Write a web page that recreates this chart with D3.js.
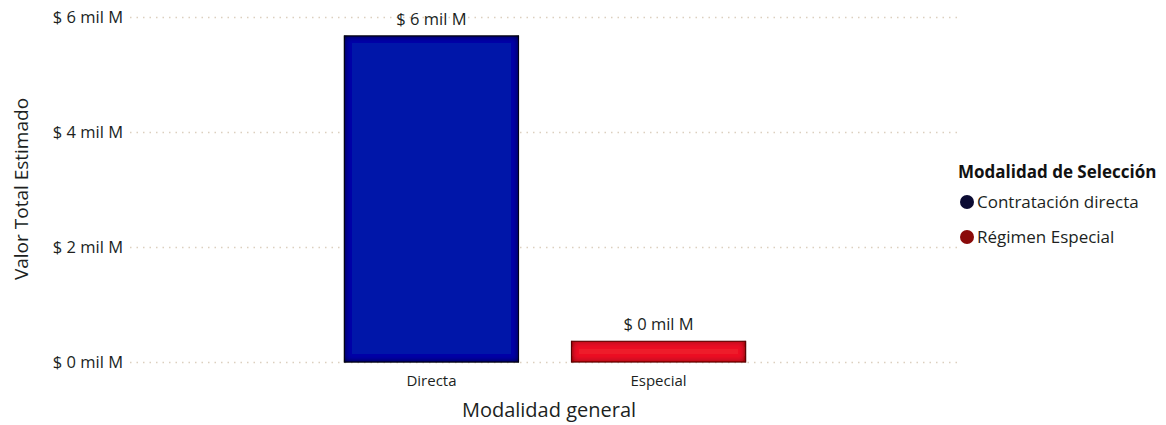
<!DOCTYPE html>
<html>
<head>
<meta charset="utf-8">
<script src="https://cdn.jsdelivr.net/npm/d3@7.9.0/dist/d3.min.js"></script>
<style>
  body { margin: 0; background: #fff; }
  svg { font-family: "Open Sans", "Noto Sans", sans-serif; }
</style>
</head>
<body>
<svg width="1166" height="425"></svg>
<script>
// data (mil M)
const categories = ['Directa', 'Especial'];
const values = [5.67, 0.36];
const labels = ['$ 6 mil M', '$ 0 mil M'];
const yTicks = [0, 2, 4, 6];
const legendItems = ['Contratación directa', 'Régimen Especial'];

const barFill = ['#0519a9', '#ee1a2c'];
const barEdge = ['#000018', '#5a0006'];
const dotColors = ['#0b0b33', '#8a0a0a'];

const svg = d3.select('svg');
const defs = svg.append('defs');

const x = d3.scaleBand().domain(categories).range([130, 960]).paddingInner(0.233).paddingOuter(0.944);
const y = d3.scaleLinear().domain([0, 6]).range([362, 17]);

// inset shadow for the bars
barEdge.forEach((c, i) => {
  const f = defs.append('filter').attr('id', 'inset' + i)
    .attr('x', '-10%').attr('y', '-10%').attr('width', '120%').attr('height', '120%');
  f.append('feComponentTransfer').attr('in', 'SourceAlpha').attr('result', 'inv')
    .append('feFuncA').attr('type', 'table').attr('tableValues', '1 0');
  f.append('feGaussianBlur').attr('in', 'inv').attr('stdDeviation', 3).attr('result', 'blur');
  f.append('feFlood').attr('flood-color', c).attr('result', 'col');
  f.append('feComposite').attr('in', 'col').attr('in2', 'blur').attr('operator', 'in').attr('result', 'sh');
  f.append('feComposite').attr('in', 'sh').attr('in2', 'SourceAlpha').attr('operator', 'in').attr('result', 'sh2');
  const m = f.append('feMerge');
  m.append('feMergeNode').attr('in', 'SourceGraphic');
  m.append('feMergeNode').attr('in', 'sh2');
  m.append('feMergeNode').attr('in', 'sh2');
});

// gridlines
svg.append('g').selectAll('line').data(yTicks).join('line')
  .attr('x1', 130).attr('x2', 960)
  .attr('y1', d => y(d) + 0.5).attr('y2', d => y(d) + 0.5)
  .attr('stroke', '#dccfbe').attr('stroke-width', 1.5)
  .attr('stroke-dasharray', '1.5 5');

// y tick labels
svg.append('g').selectAll('text').data(yTicks).join('text')
  .attr('x', 123).attr('y', d => y(d))
  .attr('dy', '0.35em').attr('text-anchor', 'end')
  .attr('font-size', 16.5).attr('fill', '#201f1e')
  .text(d => `$ ${d} mil M`);

// bars
svg.append('g').selectAll('rect').data(values).join('rect')
  .attr('x', (d, i) => x(categories[i]))
  .attr('width', x.bandwidth())
  .attr('y', d => y(d))
  .attr('height', d => y(0) - y(d))
  .attr('fill', (d, i) => barFill[i])
  .attr('stroke', (d, i) => barEdge[i]).attr('stroke-width', 1)
  .attr('filter', (d, i) => `url(#inset${i})`);

// data labels
svg.append('g').selectAll('text').data(values).join('text')
  .attr('x', (d, i) => x(categories[i]) + x.bandwidth() / 2)
  .attr('y', d => y(d) - 11)
  .attr('text-anchor', 'middle')
  .attr('font-size', 16.5).attr('fill', '#201f1e')
  .text((d, i) => labels[i]);

// x tick labels
svg.append('g').selectAll('text').data(categories).join('text')
  .attr('x', d => x(d) + x.bandwidth() / 2)
  .attr('y', 386)
  .attr('text-anchor', 'middle')
  .attr('font-size', 15).attr('fill', '#201f1e')
  .text(d => d);

// axis titles
svg.append('text').attr('x', 549).attr('y', 417)
  .attr('text-anchor', 'middle').attr('font-size', 20).attr('fill', '#201f1e')
  .text('Modalidad general');
svg.append('text')
  .attr('transform', 'translate(28,189) rotate(-90)')
  .attr('text-anchor', 'middle').attr('font-size', 19).attr('fill', '#201f1e')
  .text('Valor Total Estimado');

// legend
const lg = svg.append('g').attr('transform', 'translate(958,0)');
lg.append('text').attr('x', 0).attr('y', 178)
  .attr('font-size', 17).attr('font-weight', 'bold').attr('fill', '#111')
  .text('Modalidad de Selección');
lg.selectAll('circle').data(legendItems).join('circle')
  .attr('cx', 9).attr('cy', (d, i) => 202 + i * 35).attr('r', 7)
  .attr('fill', (d, i) => dotColors[i]);
lg.selectAll('text.item').data(legendItems).join('text')
  .attr('class', 'item')
  .attr('x', 19).attr('y', (d, i) => 202 + i * 35).attr('dy', '0.35em')
  .attr('font-size', 17).attr('fill', '#201f1e')
  .text(d => d);
</script>
</body>
</html>
